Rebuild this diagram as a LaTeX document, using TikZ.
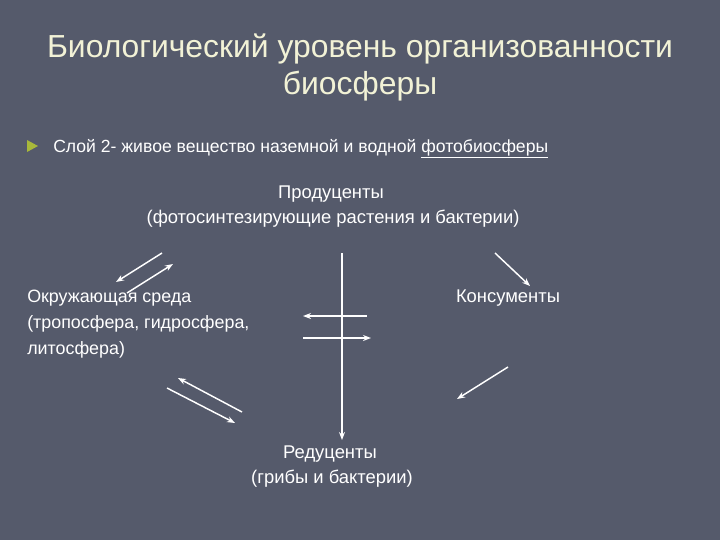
\documentclass[tikz,border=0pt]{standalone}
\usepackage{fontspec}
\usepackage{tikz}
\usepackage{xcolor}
\setmainfont{Liberation Sans}
\usetikzlibrary{positioning, arrows.meta}
\usetikzlibrary{shapes}

\definecolor{slidebg}{HTML}{555A6B}
\definecolor{titlecol}{HTML}{F2F2D6}
\definecolor{bulletcol}{HTML}{A8B83A}

\begin{document}
\begin{tikzpicture}[x=0.75pt, y=-0.75pt,
    title/.style={anchor=base, text=titlecol, inner sep=0pt, font=\fontsize{23.9}{28}\selectfont},
    bodytext/.style={anchor=base west, text=white, inner sep=0pt, font=\fontsize{13.2}{16}\selectfont},
    label/.style={anchor=base, text=white, inner sep=0pt, font=\fontsize{13.8}{16}\selectfont},
    sidelabel/.style={label, anchor=base west, font=\fontsize{13.4}{16}\selectfont},
    flow/.style={draw=white, line width=1.1pt, -{Stealth[length=6pt, width=4.5pt]}}]
            \fill[slidebg] (0, 0) rectangle (720, 540);
            \useasboundingbox (0, 0) rectangle (720, 540);

            % title
            \node[title] (title1) at (360, 57) {Биологический уровень организованности};
            \node[title] (title2) at (360, 94) {биосферы};

            % bullet line
            \fill[bulletcol] (27, 140) -- (38, 146) -- (27, 152) -- cycle;
            \node[bodytext] (layer) at (53, 152) {Слой 2- живое вещество наземной и водной \underline{фотобиосферы}};

            % levels
            \node[label] (prod1) at (331, 198) {Продуценты};
            \node[label] (prod2) at (333, 223) {(фотосинтезирующие растения и бактерии)};
            \node[sidelabel] (env1) at (27, 302) {Окружающая среда};
            \node[sidelabel] (env2) at (27, 328) {(тропосфера, гидросфера,};
            \node[sidelabel] (env3) at (27, 354) {литосфера)};
            \node[label] (cons) at (508, 302) {Консументы};
            \node[label] (red1) at (330, 458) {Редуценты};
            \node[label] (red2) at (332, 483) {(грибы и бактерии)};

            % arrow ends
            \coordinate (a1) at (162, 253);
            \coordinate (b1) at (116, 282);
            \coordinate (a2) at (127, 293);
            \coordinate (b2) at (173, 264);
            \coordinate (v1) at (342, 253);
            \coordinate (v2) at (342, 440);
            \coordinate (h1) at (367, 316);
            \coordinate (h2) at (303, 316);
            \coordinate (h3) at (303, 338);
            \coordinate (h4) at (371, 338);
            \coordinate (l1) at (242, 412);
            \coordinate (l2) at (178, 378);
            \coordinate (l3) at (167, 388);
            \coordinate (l4) at (235, 423);
            \coordinate (c1) at (495, 253);
            \coordinate (c2) at (530, 286);
            \coordinate (r1) at (508, 367);
            \coordinate (r2) at (457, 399);

            \draw[flow] (a1) -- (b1);
            \draw[flow] (a2) -- (b2);
            \draw[flow] (v1) -- (v2);
            \draw[flow] (h1) -- (h2);
            \draw[flow] (h3) -- (h4);
            \draw[flow] (l1) -- (l2);
            \draw[flow] (l3) -- (l4);
            \draw[flow] (c1) -- (c2);
            \draw[flow] (r1) -- (r2);
\end{tikzpicture}
\end{document}
